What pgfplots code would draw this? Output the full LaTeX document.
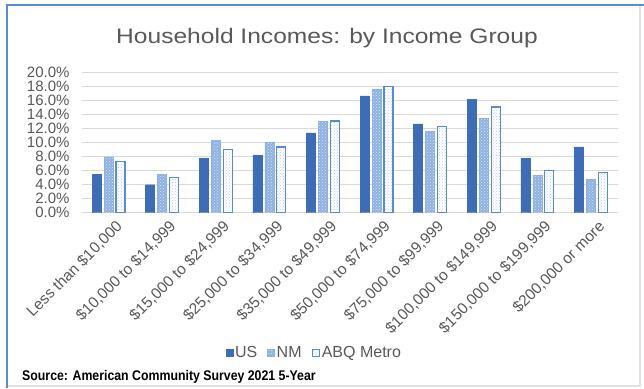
\documentclass[border=0pt]{standalone}
\usepackage{fontspec}
\setmainfont{Liberation Sans}
\usepackage{pgfplots}
\pgfplotsset{compat=1.18}
\usetikzlibrary{patterns}
\definecolor{txt}{HTML}{595959}
\definecolor{usc}{HTML}{3E6DB5}
\definecolor{nmc}{HTML}{8DB1E2}
\definecolor{abqc}{HTML}{5A8BD2}
\definecolor{abqdot}{HTML}{B9CDEB}
\definecolor{gridc}{HTML}{D9D9D9}
\definecolor{frameblue}{HTML}{5B8BD0}
\begin{document}
\begin{tikzpicture}
\useasboundingbox (0,0) rectangle (644pt,388pt);
\fill[white] (0,0) rectangle (644pt,388pt);
\draw[gridc!80!white, line width=1.5pt] (640pt,383pt) -- (640pt,2pt) -- (7pt,2pt);
\draw[frameblue, line width=2.2pt] (7pt,0pt) -- (7pt,383pt) -- (644pt,383pt);
\node[text=txt, font=\fontsize{21}{24}\selectfont] at (327pt,350pt) {\scalebox{1.17}[1]{Household Incomes: by Income Group}};
\node[anchor=west, font=\bfseries\fontsize{14}{16}\selectfont, text=black, inner sep=0pt] at (22pt,11pt) {\scalebox{0.88}[1]{Source: American Community Survey 2021 5-Year}};
\begin{axis}[
  at={(81.7pt,175.3pt)}, anchor=south west,
  scale only axis, width=536pt, height=140pt,
  xmin=-0.5, xmax=9.5, ymin=0, ymax=20,
  ybar=3pt, bar width=9pt,
  axis line style={draw=none},
  major tick length=0pt,
  ymajorgrids, grid style={gridc, line width=1pt},
  ytick={0,2,...,20},
  yticklabel={\pgfmathprintnumber[fixed,fixed zerofill,precision=1]{\tick}\%},
  /pgf/number format/assume math mode=true,
  yticklabel style={font=\fontsize{15}{15}\selectfont, text=txt, anchor=east, xshift=-12pt, inner sep=0pt},
  xtick={0,...,9},
  xticklabels={{Less than \$10,000},{\$10,000 to \$14,999},{\$15,000 to \$24,999},{\$25,000 to \$34,999},{\$35,000 to \$49,999},{\$50,000 to \$74,999},{\$75,000 to \$99,999},{\$100,000 to \$149,999},{\$150,000 to \$199,999},{\$200,000 or more}},
  xticklabel style={font=\fontsize{15.5}{15.5}\selectfont, text=txt, rotate=45, anchor=north east, inner sep=0pt, xshift=0pt, yshift=-9pt},
  legend columns=3,
  legend style={draw=none, fill=none, at={(0.434,-1.002)}, anchor=center, font=\fontsize{16}{16}\selectfont, text=txt, /tikz/every even column/.append style={column sep=8pt}},
  legend image code/.code={\draw[#1] (0pt,-3.5pt) rectangle (7pt,3.5pt);},
]
\addplot[fill=usc, draw=usc] coordinates {(0,5.5) (1,4.0) (2,7.8) (3,8.2) (4,11.4) (5,16.7) (6,12.7) (7,16.2) (8,7.8) (9,9.4)};
\addplot[fill=nmc, draw=nmc, postaction={pattern=crosshatch dots, pattern color=white!70!nmc}] coordinates {(0,8.0) (1,5.5) (2,10.3) (3,10.0) (4,13.0) (5,17.6) (6,11.6) (7,13.5) (8,5.3) (9,4.8)};
\addplot[fill=white, draw=abqc, line width=1.2pt, postaction={pattern=crosshatch dots, pattern color=abqdot}] coordinates {(0,7.3) (1,5.0) (2,9.0) (3,9.4) (4,13.1) (5,18.0) (6,12.3) (7,15.1) (8,6.0) (9,5.7)};
\legend{US,NM,ABQ Metro}
\end{axis}
\end{tikzpicture}
\end{document}
